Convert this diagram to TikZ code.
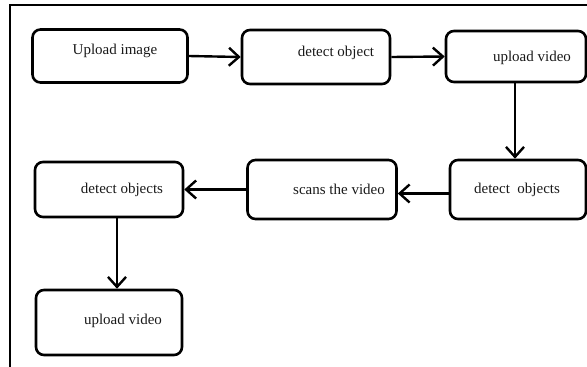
\documentclass[tikz,border=0pt]{standalone}
\usepackage{fontspec}
\setmainfont{Liberation Serif}
\usetikzlibrary{arrows.meta}

\begin{document}
\begin{tikzpicture}[
            x=1pt, y=1pt,
            stage/.style={draw, line width=2.6pt, rounded corners=8pt, inner sep=0pt},
            tag/.style={font=\fontsize{15}{18}\selectfont, text=black!90},
            flow/.style={line width=2.4pt, -{Straight Barb[length=10pt,width=18pt]}}
        ]
        \useasboundingbox (0,0) rectangle (587,-367);
        % frame
        \draw[line width=1.8pt] (587,-5) -- (10,-5) -- (10,-367);
        % top row
        \node[stage, minimum width=155pt, minimum height=53pt,
            label={[tag, xshift=5pt, yshift=5pt]center:Upload image}] (img) at (110,-56) {};
        \node[stage, minimum width=148pt, minimum height=54pt,
            label={[tag, xshift=20pt, yshift=4pt]center:detect object}] (det) at (316,-57) {};
        \node[stage, minimum width=140pt, minimum height=51pt,
            label={[tag, xshift=16pt, yshift=-1pt]center:upload video}] (vid) at (516,-56.5) {};
        % middle row
        \node[stage, minimum width=136pt, minimum height=59pt,
            label={[tag, xshift=-1pt]center:detect\ \ objects}] (detb) at (518,-189.5) {};
        \node[stage, minimum width=149pt, minimum height=59pt,
            label={[tag, xshift=17pt]center:scans the video}] (scan) at (322,-189.5) {};
        \node[stage, minimum width=148pt, minimum height=55pt,
            label={[tag, xshift=13pt]center:detect objects}] (detc) at (109,-189.5) {};
        % bottom
        \node[stage, minimum width=146pt, minimum height=65pt,
            label={[tag, xshift=14pt, yshift=2pt]center:upload video}] (out) at (109,-322.5) {};

        \draw[flow] (img.east) -- (det.west);
        \draw[flow] (det.east) -- (vid.west);
        \draw[flow] ([xshift=-1pt]vid.south) -- ([xshift=-1pt]vid.south |- detb.north);
        \draw[flow] ([yshift=-4pt]detb.west) -- ([yshift=-4pt]scan.east);
        \draw[flow] (scan.west) -- (detc.east);
        \draw[flow] ([xshift=8pt]detc.south) -- ([xshift=8pt]detc.south |- out.north);
\end{tikzpicture}
\end{document}
